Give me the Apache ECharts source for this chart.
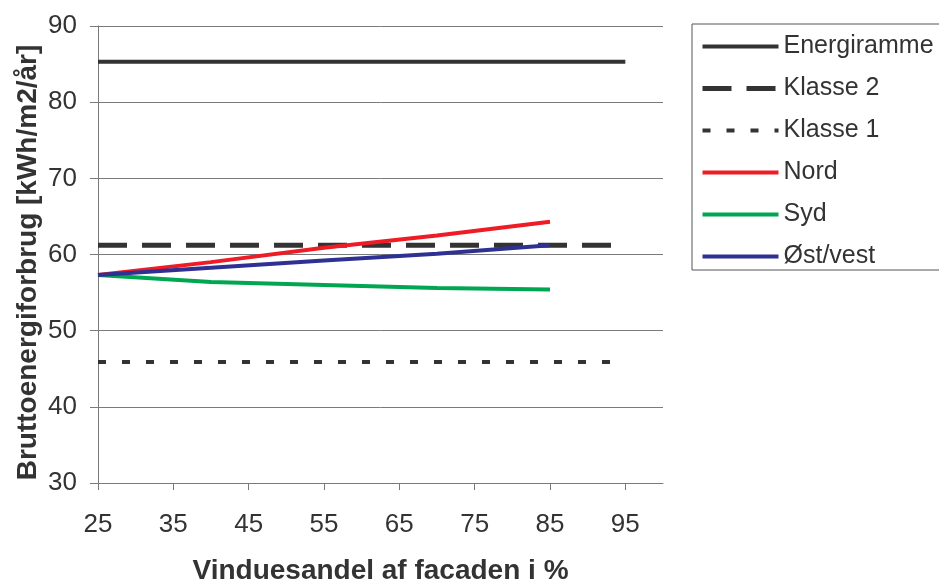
<!DOCTYPE html>
<html>
<head>
<meta charset="utf-8">
<script src="https://cdn.jsdelivr.net/npm/echarts@6/dist/echarts.min.js"></script>
<style>
  html, body { margin: 0; padding: 0; background: #fff; }
  #chart { width: 939px; height: 582px; }
</style>
</head>
<body>
<div id="chart"></div>
<script>
// Window share of the facade (%) at each computed point
const shares = [25, 40, 55, 70, 85, 95];
const orientShares = [25, 40, 55, 70, 85];

// Requirement levels (kWh/m2/år)
const energiramme = [85.3, 85.3, 85.3, 85.3, 85.3, 85.3];
const klasse2 = [61.2, 61.2, 61.2, 61.2, 61.2, 61.2];
const klasse1 = [45.9, 45.9, 45.9, 45.9, 45.9, 45.9];

// Gross energy use by facade orientation
const nord = [57.3, 59.0, 60.9, 62.5, 64.3];
const syd = [57.3, 56.4, 56.0, 55.6, 55.4];
const oestVest = [57.3, 58.25, 59.2, 60.1, 61.2];

const xTicks = [25, 35, 45, 55, 65, 75, 85, 95];

const pair = (xs, ys) => xs.map((x, i) => [x, ys[i]]);

const FONT = '"Liberation Sans", Arial, sans-serif';
const TXT = '#333333';
const GRID = '#7a7a7a';

const styles = {
  'Energiramme': { color: '#333333', width: 4, type: 'solid' },
  'Klasse 2': { color: '#333333', width: 5, type: [29, 15] },
  'Klasse 1': { color: '#333333', width: 4, type: [8, 16] },
  'Nord': { color: '#ee1c25', width: 4, type: 'solid' },
  'Syd': { color: '#00a651', width: 4, type: 'solid' },
  'Øst/vest': { color: '#2e3192', width: 4, type: 'solid' }
};

function lineSeries(name, xs, ys) {
  const s = styles[name];
  return {
    name: name,
    type: 'line',
    data: pair(xs, ys),
    symbol: 'none',
    legendIcon: 'none',
    silent: true,
    lineStyle: { color: s.color, width: s.width, type: s.type, cap: 'butt' },
    itemStyle: { color: s.color }
  };
}

const legendNames = ['Energiramme', 'Klasse 2', 'Klasse 1', 'Nord', 'Syd', 'Øst/vest'];

const chart = echarts.init(document.getElementById('chart'), null, { renderer: 'canvas' });
chart.setOption({
  animation: false,
  backgroundColor: '#ffffff',
  textStyle: { fontFamily: FONT },
  grid: { left: 98, top: 26, right: 276, bottom: 99, containLabel: false, outerBoundsMode: 'none' },
  legend: {
    orient: 'vertical',
    left: 692,
    top: 24,
    padding: [10, 12, 1, 8],
    borderColor: '#555555',
    borderWidth: 1,
    itemWidth: 76,
    itemHeight: 14,
    itemGap: 17,
    textStyle: { fontFamily: FONT, fontSize: 25, color: TXT, lineHeight: 24 },
    data: legendNames.map(n => ({
      name: n,
      itemStyle: { opacity: 0 },
      lineStyle: { color: styles[n].color, width: styles[n].width, type: styles[n].type, cap: 'butt' }
    }))
  },
  xAxis: {
    type: 'value',
    min: 25,
    max: 100,
    interval: 10,
    name: 'Vinduesandel af facaden i %',
    nameLocation: 'middle',
    nameGap: 74,
    nameMoveOverlap: false,
    nameTextStyle: { fontFamily: FONT, fontSize: 28, fontWeight: 'bold', color: TXT },
    axisLine: { show: true, lineStyle: { color: GRID, width: 1 } },
    axisTick: { show: true, length: 7, lineStyle: { color: GRID }, customValues: xTicks },
    axisLabel: { fontSize: 26, color: TXT, margin: 29, customValues: xTicks },
    splitLine: { show: false }
  },
  yAxis: {
    type: 'value',
    min: 30,
    max: 90,
    interval: 10,
    name: 'Bruttoenergiforbrug [kWh/m2/år]',
    nameLocation: 'middle',
    nameGap: 56,
    nameMoveOverlap: false,
    nameTextStyle: { fontFamily: FONT, fontSize: 28, fontWeight: 'bold', color: TXT, padding: [0, 16, 0, 0] },
    axisLine: { show: true, lineStyle: { color: GRID, width: 1 } },
    axisTick: { show: true, length: 8, lineStyle: { color: GRID } },
    axisLabel: { fontSize: 26, color: TXT, margin: 21 },
    splitLine: { show: true, lineStyle: { color: GRID, width: 1 } }
  },
  series: [
    lineSeries('Energiramme', shares, energiramme),
    lineSeries('Klasse 2', shares, klasse2),
    lineSeries('Klasse 1', shares, klasse1),
    lineSeries('Nord', orientShares, nord),
    lineSeries('Syd', orientShares, syd),
    lineSeries('Øst/vest', orientShares, oestVest)
  ]
});
</script>
</body>
</html>
